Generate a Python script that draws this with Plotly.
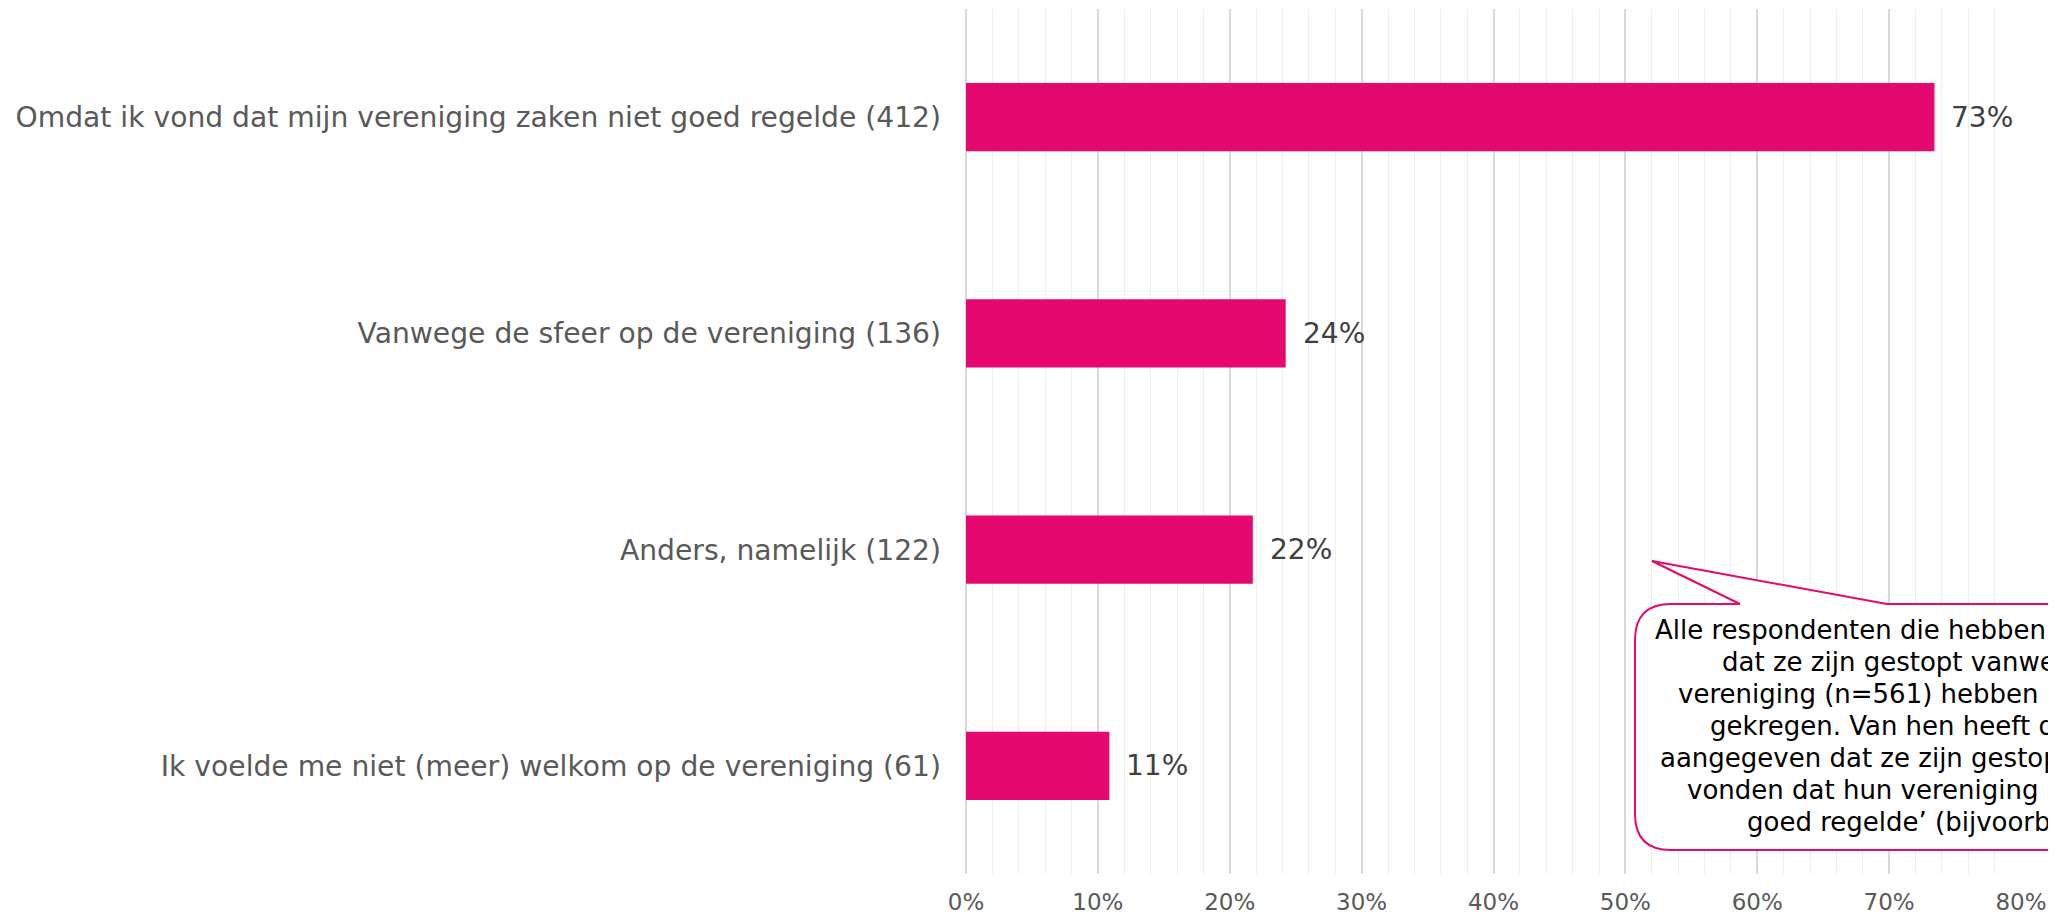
import plotly.graph_objects as go

# ---- data ----
categories = [
    "Omdat ik vond dat mijn vereniging zaken niet goed regelde (412)",
    "Vanwege de sfeer op de vereniging (136)",
    "Anders, namelijk (122)",
    "Ik voelde me niet (meer) welkom op de vereniging (61)",
]
counts = [412, 136, 122, 61]
total_n = 561
percentages = [c / total_n * 100 for c in counts]
value_labels = [f"{round(p):d}%" for p in percentages]
tick_values = [0, 10, 20, 30, 40, 50, 60, 70, 80]
tick_labels = ["0%", "10%", "20%", "30%", "40%", "50%", "60%", "70%", "80%"]
callout_lines = [
    "Alle respondenten die hebben aangegeven",
    "dat ze zijn gestopt vanwege hun",
    "vereniging (n=561) hebben deze vraag",
    "gekregen. Van hen heeft de meerderheid",
    "aangegeven dat ze zijn gestopt omdat ze",
    "vonden dat hun vereniging ‘zaken niet",
    "goed regelde’ (bijvoorbeeld de organisatie)",
]

# ---- layout geometry (page pixels; OFF = default body margin) ----
W, H = 2056, 912
OFF = 8
L, R, T, B = 966 - OFF, 2021 - OFF, 9 - OFF, 874 - OFF
FONT = "DejaVu Sans"
MAGENTA = "#e5096f"


def px(p):
    return (p - OFF - L) / (R - L)


def py(p):
    return (B - (p - OFF)) / (B - T)


fig = go.Figure()
fig.add_trace(go.Bar(
    x=percentages,
    y=categories,
    orientation="h",
    marker=dict(color=MAGENTA, line=dict(width=0)),
    hoverinfo="skip",
))

annotations = []
for cat, val, lab in zip(categories, percentages, value_labels):
    annotations.append(dict(
        x=val, y=cat, xref="x", yref="y", text=lab, showarrow=False,
        xanchor="left", yanchor="middle", xshift=15,
        font=dict(family=FONT, size=28, color="#404040"),
    ))

# callout text lines (page pixel starts / centres)
line_starts = [1653, 1720, 1676, 1708, 1658, 1685, 1745]
line_centers = [630, 662, 694, 726, 758, 790, 822]
for txt, sx, cy in zip(callout_lines, line_starts, line_centers):
    annotations.append(dict(
        x=px(sx), y=py(cy), xref="paper", yref="paper", text=txt,
        showarrow=False, xanchor="left", yanchor="middle",
        font=dict(family=FONT, size=26, color="#000000"),
    ))

# callout bubble shape
bx0, bx1, by0, by1, rad = 1635, 2450, 604, 850, 36
tip = (1652, 561)
base_l, base_r = 1740, 1887


def P(x, y):
    return f"{px(x):.6f},{py(y):.6f}"


path = (
    f"M {P(base_r, by0)} L {P(bx1 - rad, by0)} Q {P(bx1, by0)} {P(bx1, by0 + rad)} "
    f"L {P(bx1, by1 - rad)} Q {P(bx1, by1)} {P(bx1 - rad, by1)} "
    f"L {P(bx0 + rad, by1)} Q {P(bx0, by1)} {P(bx0, by1 - rad)} "
    f"L {P(bx0, by0 + rad)} Q {P(bx0, by0)} {P(bx0 + rad, by0)} "
    f"L {P(base_l, by0)} L {P(*tip)} Z"
)

fig.update_layout(
    width=W, height=H,
    margin=dict(l=L, r=W - R, t=T, b=H - B, pad=0),
    paper_bgcolor="white", plot_bgcolor="white",
    showlegend=False,
    bargap=0.685,
    font=dict(family=FONT),
    xaxis=dict(
        range=[0, 80],
        tickvals=tick_values, ticktext=tick_labels,
        showgrid=True, gridcolor="#d9d9d9", gridwidth=1.5,
        zeroline=True, zerolinecolor="#d9d9d9", zerolinewidth=1.5,
        minor=dict(dtick=2, showgrid=True, gridcolor="#efefef", gridwidth=1.2),
        tickfont=dict(family=FONT, size=23, color="#595959"),
        ticks="", ticklabelstandoff=12,
        showline=False, fixedrange=True,
    ),
    yaxis=dict(
        categoryorder="array", categoryarray=categories,
        autorange="reversed",
        showgrid=False, zeroline=False, showline=False,
        ticks="", ticklabelstandoff=24,
        tickfont=dict(family=FONT, size=28.2, color="#595959"),
    ),
    shapes=[dict(
        type="path", path=path, xref="paper", yref="paper",
        fillcolor="white", line=dict(color=MAGENTA, width=2), layer="above",
    )],
    annotations=annotations,
)

fig.write_html("out.html")
